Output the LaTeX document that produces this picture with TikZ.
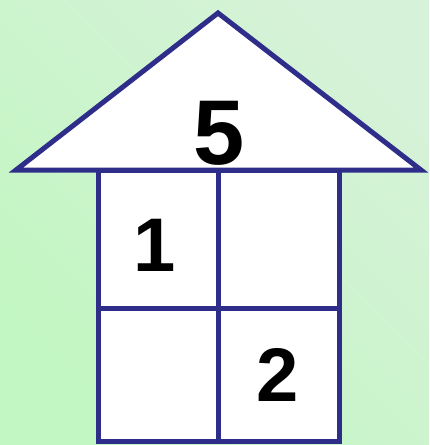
\documentclass[tikz,border=0pt]{standalone}
\usepackage{fontspec}
\setmainfont{Liberation Sans}
\definecolor{navy}{RGB}{46,46,138}
\definecolor{bgA}{RGB}{194,246,194}
\definecolor{bgB}{RGB}{214,242,216}
\tikzset{
  edge/.style={draw=navy,line width=5pt,line join=miter},
  num/.style={font=\bfseries,text=black,inner sep=0pt,anchor=base}
}
\begin{document}
\begin{tikzpicture}[x=1pt,y=-1pt]
\useasboundingbox (0,0) rectangle (429,445);
\shade[bottom color=bgA,top color=bgB,shading angle=-45] (0,0) rectangle (429,445);
% body
\coordinate (tl) at (98,170);
\coordinate (br) at (339,441);
\fill[white] (tl) rectangle (br);
\draw[edge] (218,170) -- (218,441);
\draw[edge] (98,308) -- (339,308);
\draw[edge] (tl) rectangle (br);
% roof
\coordinate (apex) at (218,13);
\coordinate (rl) at (16,170);
\coordinate (rr) at (421,170);
\filldraw[edge,fill=white] (rl) -- (apex) -- (rr) -- cycle;
\node[num,font=\fontsize{92}{92}\selectfont\bfseries] (five) at (219,164) {5};
\node[num,font=\fontsize{76}{76}\selectfont\bfseries] (one) at (155,271) {1};
\node[num,font=\fontsize{76}{76}\selectfont\bfseries] (two) at (278,401) {2};
\end{tikzpicture}
\end{document}
